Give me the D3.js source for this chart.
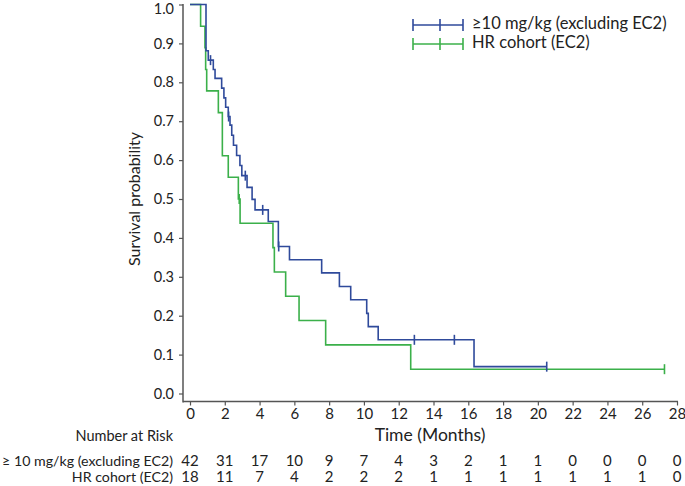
<!DOCTYPE html>
<html>
<head>
<meta charset="utf-8">
<script src="https://cdn.jsdelivr.net/npm/d3@7"></script>
<style>
  html, body { margin: 0; padding: 0; background: #ffffff; }
  svg { display: block; }
  text { font-family: Lato, "Open Sans", sans-serif; fill: #222; }
</style>
</head>
<body>
<svg id="chart" width="685" height="486"></svg>
<script>
// ---- data ----
const seriesNames = ["\u226510 mg/kg (excluding EC2)", "HR cohort (EC2)"];
const riskLabels = ["\u2265 10 mg/kg (excluding EC2)", "HR cohort (EC2)"];

// Kaplan-Meier step points: time (months) and survival after the step
const blueTimes = [0, 0.92, 1.05, 1.34, 1.44, 1.82, 1.95, 2.05, 2.2, 2.3, 2.4, 2.5, 2.68, 2.87, 2.98, 3.28, 3.57, 3.74, 4.5, 5.08, 5.72, 7.57, 8.59, 9.24, 10.16, 10.25, 10.82, 16.33];
const blueSurv  = [1.0, 0.881, 0.857, 0.833, 0.810, 0.785, 0.760, 0.736, 0.712, 0.690, 0.664, 0.638, 0.612, 0.586, 0.560, 0.530, 0.499, 0.472, 0.442, 0.378, 0.344, 0.310, 0.275, 0.241, 0.206, 0.172, 0.138, 0.069];
const blueEnd = 20.51;
const blueCensorTimes = [1.18, 2.22, 3.18, 4.18, 5.1, 12.9, 15.2, 20.51];
const blueCensorSurv  = [0.857, 0.712, 0.560, 0.472, 0.378, 0.138, 0.138, 0.069];

const greenTimes = [0, 0.61, 0.86, 0.90, 0.96, 1.63, 1.86, 2.2, 2.78, 2.88, 4.77, 4.85, 5.5, 6.27, 7.8, 12.69];
const greenSurv  = [1.0, 0.944, 0.889, 0.833, 0.778, 0.722, 0.611, 0.556, 0.500, 0.4375, 0.375, 0.3125, 0.25, 0.1875, 0.125, 0.0625];
const greenEnd = 27.28;
const greenCensorTimes = [2.83, 27.28];
const greenCensorSurv  = [0.500, 0.0625];

const xTicks = [0, 2, 4, 6, 8, 10, 12, 14, 16, 18, 20, 22, 24, 26, 28];
const yTicks = [0, 0.1, 0.2, 0.3, 0.4, 0.5, 0.6, 0.7, 0.8, 0.9, 1.0];
const riskBlue  = [42, 31, 17, 10, 9, 7, 4, 3, 2, 1, 1, 0, 0, 0, 0];
const riskGreen = [18, 11, 7, 4, 2, 2, 2, 1, 1, 1, 1, 1, 1, 1, 0];

const colors = ["#2f4a9b", "#3bb04a"];

// ---- drawing ----
const svg = d3.select("#chart");
const x = d3.scaleLinear().domain([0, 28]).range([190, 677]);
const y = d3.scaleLinear().domain([0, 1]).range([393.5, 4.5]);
const axisX = 183, axisY = 401.5;
const axisColor = "#555";

// y axis
const yAxis = svg.append("g").attr("transform", `translate(${axisX},0)`)
  .call(d3.axisLeft(y).tickValues(yTicks).tickFormat(d3.format(".1f")).tickSize(4).tickSizeOuter(0));
yAxis.select(".domain").remove();
yAxis.selectAll(".tick line").attr("stroke", axisColor).attr("stroke-width", 1.2);
yAxis.selectAll(".tick text").attr("x", -9).style("font-size", "14.5px").style("font-family", "Lato, sans-serif").attr("fill", "#222")
  .attr("dy", d => d === 1 ? "0.62em" : "0.32em");

// x axis
const xAxis = svg.append("g").attr("transform", `translate(0,${axisY})`)
  .call(d3.axisBottom(x).tickValues(xTicks).tickSize(4).tickSizeOuter(0));
xAxis.select(".domain").remove();
xAxis.selectAll(".tick line").attr("stroke", axisColor).attr("stroke-width", 1.2);
xAxis.selectAll(".tick text").attr("y", 7).style("font-size", "15px").style("font-family", "Lato, sans-serif").attr("fill", "#222");

// axis lines
svg.append("line").attr("x1", axisX).attr("x2", axisX).attr("y1", 4).attr("y2", axisY + 1)
  .attr("stroke", axisColor).attr("stroke-width", 1.5);
svg.append("line").attr("x1", axisX).attr("x2", 678).attr("y1", axisY).attr("y2", axisY)
  .attr("stroke", axisColor).attr("stroke-width", 1.5);

// axis titles
svg.append("text").attr("transform", `translate(136,${(y(0)+y(1))/2}) rotate(-90)`)
  .attr("text-anchor", "middle").attr("dominant-baseline", "middle")
  .style("font-size", "16px").text("Survival probability");
svg.append("text").attr("x", 430).attr("y", 437).attr("text-anchor", "middle")
  .attr("dominant-baseline", "middle").style("font-size", "17.5px").text("Time (Months)");

// curves
const line = d3.line().x(d => x(d[0])).y(d => y(d[1])).curve(d3.curveStepAfter);
function drawCurve(times, surv, end, cTimes, cSurv, color) {
  const pts = times.map((t, i) => [t, surv[i]]);
  pts.push([end, surv[surv.length - 1]]);
  svg.append("path").datum(pts).attr("d", line)
    .attr("fill", "none").attr("stroke", color).attr("stroke-width", 1.6);
  svg.append("g").selectAll("line").data(cTimes.map((t, i) => [t, cSurv[i]])).join("line")
    .attr("x1", d => x(d[0])).attr("x2", d => x(d[0]))
    .attr("y1", d => y(d[1]) - 5).attr("y2", d => y(d[1]) + 5)
    .attr("stroke", color).attr("stroke-width", 1.6);
}
drawCurve(greenTimes, greenSurv, greenEnd, greenCensorTimes, greenCensorSurv, colors[1]);
drawCurve(blueTimes, blueSurv, blueEnd, blueCensorTimes, blueCensorSurv, colors[0]);

// legend
const legendY = [25, 44];
seriesNames.forEach((name, i) => {
  const g = svg.append("g");
  g.append("line").attr("x1", 413).attr("x2", 463).attr("y1", legendY[i]).attr("y2", legendY[i])
    .attr("stroke", colors[i]).attr("stroke-width", 1.6);
  [413, 440, 463].forEach(tx => {
    g.append("line").attr("x1", tx).attr("x2", tx).attr("y1", legendY[i] - 6).attr("y2", legendY[i] + 6)
      .attr("stroke", colors[i]).attr("stroke-width", 1.6);
  });
  g.append("text").attr("x", 472).attr("y", legendY[i]).attr("dominant-baseline", "middle")
    .style("font-size", "16.5px").text(name);
});

// number at risk table
svg.append("text").attr("x", 173).attr("y", 437).attr("text-anchor", "end")
  .attr("dominant-baseline", "middle").style("font-size", "14.5px").text("Number at Risk");
const riskRows = [riskBlue, riskGreen];
const rowY = [462, 478.5];
riskRows.forEach((row, r) => {
  svg.append("text").attr("x", 173).attr("y", rowY[r]).attr("text-anchor", "end")
    .attr("dominant-baseline", "middle").style("font-size", "14.2px").text(riskLabels[r]);
  svg.append("g").selectAll("text").data(row).join("text")
    .attr("x", (d, i) => x(xTicks[i])).attr("y", rowY[r])
    .attr("text-anchor", "middle").attr("dominant-baseline", "middle")
    .style("font-size", "15px").text(d => d);
});
</script>
</body>
</html>
